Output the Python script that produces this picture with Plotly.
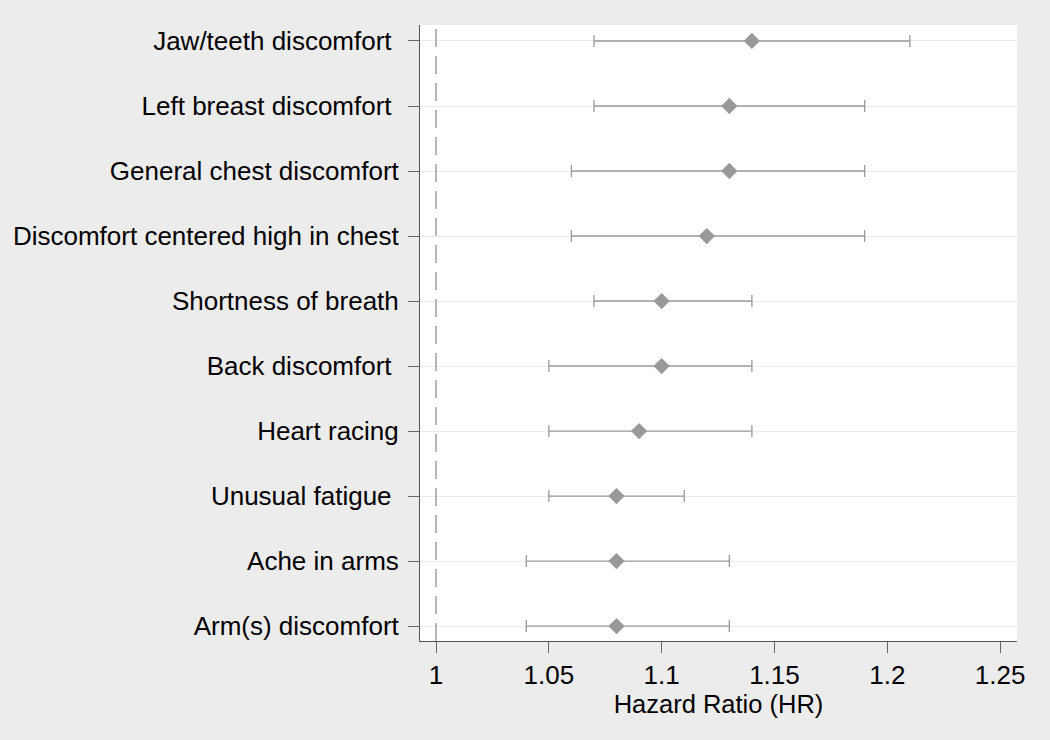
import plotly.graph_objects as go

labels = ["Jaw/teeth discomfort ", "Left breast discomfort ", "General chest discomfort",
          "Discomfort centered high in chest", "Shortness of breath", "Back discomfort ",
          "Heart racing", "Unusual fatigue ", "Ache in arms", "Arm(s) discomfort"]
hr = [1.14, 1.13, 1.13, 1.12, 1.10, 1.10, 1.09, 1.08, 1.08, 1.08]
lo = [1.07, 1.07, 1.06, 1.06, 1.07, 1.05, 1.05, 1.05, 1.04, 1.04]
hi = [1.21, 1.19, 1.19, 1.19, 1.14, 1.14, 1.14, 1.11, 1.13, 1.13]
xticks = [1, 1.05, 1.1, 1.15, 1.2, 1.25]
xticklabels = ["1", "1.05", "1.1", "1.15", "1.2", "1.25"]

n = len(labels)
ypos = [n - 1 - i for i in range(n)]

fig = go.Figure()
fig.add_trace(go.Scatter(
    x=hr, y=ypos, mode="markers",
    marker=dict(symbol="diamond", size=12.5, color="#999999"),
    error_x=dict(type="data", symmetric=False,
                 array=[h - m for h, m in zip(hi, hr)],
                 arrayminus=[m - l for m, l in zip(hr, lo)],
                 color="#9a9a9a", thickness=1.3, width=6),
    showlegend=False,
))

fig.add_shape(type="line", x0=1, x1=1, y0=0, y1=1, xref="x", yref="paper",
              line=dict(color="#888888", width=1.2, dash="18px,9px"))

font = "Liberation Sans, Arial, sans-serif"
fig.update_layout(
    width=1050, height=740,
    paper_bgcolor="#ececec", plot_bgcolor="white",
    margin=dict(l=420, r=33, t=25, b=99),
    font=dict(family=font, size=22, color="black"),
    xaxis=dict(range=[0.9929, 1.2575], tickvals=xticks, ticktext=xticklabels,
               ticks="outside", ticklen=11, tickcolor="#666666", tickwidth=1,
               showgrid=False, zeroline=False, showline=True, linecolor="#555555",
               linewidth=1, title=dict(text="Hazard Ratio (HR)", standoff=0, font=dict(size=25.5)),
               tickfont=dict(size=26)),
    yaxis=dict(range=[-0.23, 9.246], tickvals=ypos, ticktext=labels,
               ticks="outside", ticklen=11, tickcolor="#666666", tickwidth=1,
               showgrid=True, gridcolor="#ececec", gridwidth=1,
               zeroline=False, showline=True, linecolor="#555555", linewidth=1,
               tickfont=dict(size=26), ticklabelstandoff=4),
)

fig.write_html("out.html", config={"displayModeBar": False},
               post_script="document.body.style.margin='0';document.body.style.overflow='hidden';")
